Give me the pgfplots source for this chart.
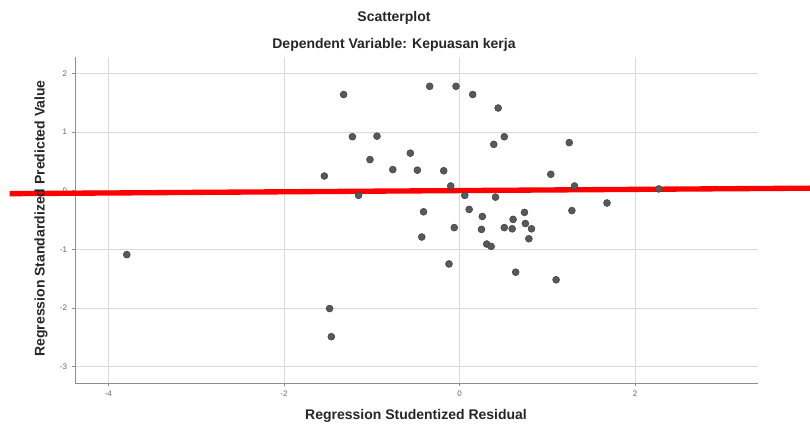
\documentclass[border=0pt]{standalone}
\usepackage{fontspec}
\setmainfont{Liberation Sans}
\usepackage{pgfplots}
\pgfplotsset{compat=1.18}
\begin{document}
\begin{tikzpicture}[x=1pt,y=1pt]
\path[use as bounding box] (-56.25,-33.75) rectangle (551.25,287.25);
\begin{axis}[at={(0,0)}, anchor=south west, scale only axis,
 width=512.25pt, height=244.5pt,
 xmin=-4.38, xmax=3.40, ymin=-3.28, ymax=2.28,
 axis lines*=left,
 axis line style={draw=black!45, line width=0.6pt},
 grid=major, grid style={draw=black!15, line width=0.6pt},
 xtick={-4,-2,0,2}, xticklabels={-4,-2,0,2},
 ytick={-3,-2,-1,0,1,2}, yticklabels={-3,-2,-1,0,1,2},
 tick align=outside, major tick length=2.5pt,
 tick style={draw=black!45, line width=0.6pt},
 ticklabel style={font=\fontsize{6}{7}\selectfont, text=black!60},
 clip=false]
\addplot[only marks, mark=*, mark size=2.6pt,
  mark options={fill=black!65, draw=black!75, line width=0.4pt}] table {
x y
-1.32 1.64
-0.34 1.78
-0.04 1.78
0.15 1.64
0.44 1.41
-1.22 0.92
-0.94 0.93
0.51 0.92
0.39 0.79
-0.56 0.64
-1.02 0.53
-0.76 0.36
-0.48 0.35
-0.18 0.34
-1.54 0.25
1.04 0.28
-0.10 0.08
-1.15 -0.08
0.06 -0.08
0.41 -0.11
-0.41 -0.36
0.11 -0.32
0.26 -0.44
0.74 -0.37
0.61 -0.49
0.75 -0.56
-0.06 -0.63
0.25 -0.66
0.51 -0.63
0.60 -0.65
0.82 -0.65
0.79 -0.82
-0.43 -0.79
0.31 -0.91
0.36 -0.95
-0.12 -1.25
0.64 -1.39
1.10 -1.52
-1.48 -2.01
-1.46 -2.49
-3.79 -1.09
1.25 0.82
1.31 0.08
1.68 -0.21
1.28 -0.34
2.27 0.03
};
\addplot[red, line width=4pt] coordinates {(-5.125,-0.051) (3.997,0.043)};
\end{axis}
\node[font=\fontsize{10.5}{12}\selectfont\bfseries, text=black!85] at (239.25,273.75) {Scatterplot};
\node[font=\fontsize{10.5}{12}\selectfont\bfseries, text=black!85] at (239.25,253.5) {Dependent Variable: Kepuasan kerja};
\node[font=\fontsize{10.5}{12}\selectfont\bfseries, text=black!85] at (255.75,-24.75) {Regression Studentized Residual};
\node[font=\fontsize{10.5}{12}\selectfont\bfseries, text=black!85, rotate=90] at (-25.5,123.4) {Regression Standardized Predicted Value};
\end{tikzpicture}
\end{document}
